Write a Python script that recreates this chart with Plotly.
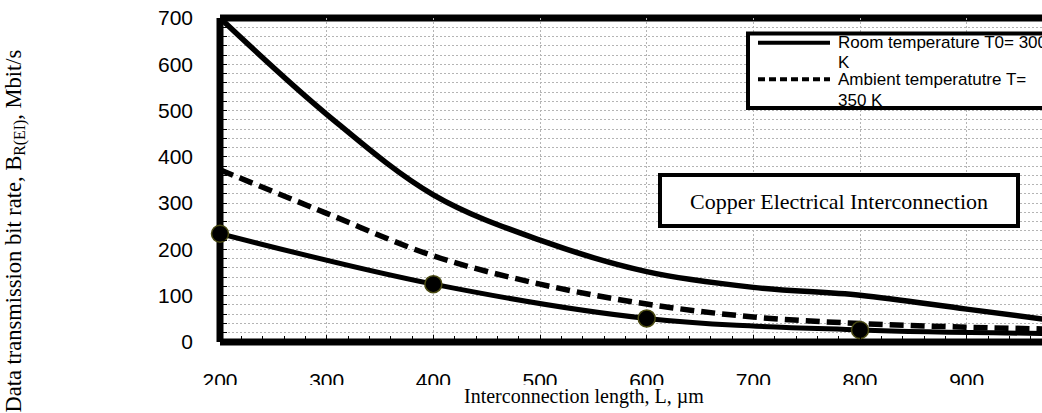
import plotly.graph_objects as go

# ---- data ----
length_um = [200, 300, 400, 500, 600, 700, 800, 900, 1000]
room_temp_rate = [700, 492, 318, 220, 152, 118, 101, 71, 41]
ambient_temp_rate = [372, 278, 186, 125, 82, 54, 40, 32, 27]
point_length_um = [200, 400, 600, 800, 1000]
point_rate = [234, 125, 51, 26, 18]
x_ticks = [200, 300, 400, 500, 600, 700, 800, 900]
y_ticks = [0, 100, 200, 300, 400, 500, 600, 700]

legend_room = ["Room temperature T0= 300", "K"]
legend_ambient = ["Ambient temperatutre T=", "350 K"]
box_label = "Copper Electrical Interconnection"
x_title = "Interconnection length, L, µm"
y_title = "Data transmission bit rate, B<sub>R(EI)</sub>, Mbit/s"

# ---- layout geometry ----
W, H = 1042, 413
L, T, B, R = 220, 18, 71, 0
PW = W - L - R
PH = H - T - B
X_PER_100 = 106.67
x_max = 200 + PW / X_PER_100 * 100


def px(x):
    return (x - L) / PW


def py(y):
    return (H - B - y) / PH


ARIAL = "Arial, Liberation Sans, sans-serif"
TIMES = "Times New Roman, Liberation Serif, serif"

fig = go.Figure()
fig.add_trace(go.Scatter(
    x=length_um, y=room_temp_rate, mode="lines",
    name="Room temperature T0= 300 K",
    line=dict(color="black", width=5.5, shape="spline"),
))
fig.add_trace(go.Scatter(
    x=length_um, y=ambient_temp_rate, mode="lines",
    name="Ambient temperatutre T= 350 K",
    line=dict(color="black", width=5.5, shape="spline", dash="14px,7px"),
))
fig.add_trace(go.Scatter(
    x=point_length_um, y=point_rate, mode="lines+markers",
    name="Points", cliponaxis=False,
    line=dict(color="black", width=5, shape="spline"),
    marker=dict(color="black", size=17, line=dict(color="#4a4a12", width=1.5)),
))

grid_col = "#b4b4b4"
fig.update_layout(
    width=W, height=H,
    margin=dict(l=L, r=R, t=T, b=B, pad=0),
    paper_bgcolor="white", plot_bgcolor="rgba(0,0,0,0)",
    showlegend=False,
    xaxis=dict(
        range=[200, x_max], tickvals=x_ticks, ticktext=[str(v) for v in x_ticks],
        showgrid=True, gridcolor=grid_col, griddash="2px,2px", gridwidth=1,
        zeroline=False, showline=False,
        ticks="inside", ticklen=7, tickcolor="black", tickwidth=1,
        minor=dict(dtick=20, ticks="inside", ticklen=6, tickcolor="black", showgrid=False),
        tickfont=dict(family=ARIAL, size=21, color="black"),
        ticklabelstandoff=24,
    ),
    yaxis=dict(
        range=[0, 700], tickvals=y_ticks,
        showgrid=True, gridcolor=grid_col, griddash="2px,2px", gridwidth=1,
        zeroline=False, showline=False,
        ticks="inside", ticklen=7, tickcolor="black", tickwidth=1,
        minor=dict(dtick=20, ticks="inside", ticklen=7, tickcolor="black",
                   showgrid=True, gridcolor=grid_col, griddash="2px,2px", gridwidth=1),
        tickfont=dict(family=ARIAL, size=21, color="black"),
        ticklabelstandoff=26,
    ),
)

shapes = []
# thick plot border (left, top, bottom); right side lies beyond the visible area
for x0, y0, x1, y1 in [(0, 0, 0, 1), (0, 1, 1.1, 1), (0, 0, 1.1, 0)]:
    shapes.append(dict(type="line", xref="paper", yref="paper",
                       x0=x0, y0=y0, x1=x1, y1=y1,
                       line=dict(color="black", width=7), layer="below"))
# white strip cutting off bottom of the x tick labels
shapes.append(dict(type="rect", xref="paper", yref="paper",
                   x0=px(150), x1=px(1100), y0=py(385), y1=py(430),
                   fillcolor="white", line=dict(width=0), layer="above"))
# legend box
shapes.append(dict(type="rect", xref="paper", yref="paper",
                   x0=px(748), x1=px(1120), y0=py(108), y1=py(33.5),
                   fillcolor="white", line=dict(color="black", width=4), layer="above"))
shapes.append(dict(type="line", xref="paper", yref="paper",
                   x0=px(758), x1=px(830), y0=py(42.7), y1=py(42.7),
                   line=dict(color="black", width=4), layer="above"))
shapes.append(dict(type="line", xref="paper", yref="paper",
                   x0=px(758), x1=px(830), y0=py(79.3), y1=py(79.3),
                   line=dict(color="black", width=4, dash="7px,4px"), layer="above"))
# copper label box
shapes.append(dict(type="rect", xref="paper", yref="paper",
                   x0=px(660), x1=px(1018), y0=py(226), y1=py(175),
                   fillcolor="white", line=dict(color="black", width=4), layer="above"))
fig.update_layout(shapes=shapes)

ann = []
for txt, yc in [(legend_room[0], 42.7), (legend_room[1], 62.5),
                (legend_ambient[0], 79.3), (legend_ambient[1], 100.5)]:
    ann.append(dict(xref="paper", yref="paper", x=px(836), y=py(yc),
                    xanchor="left", yanchor="middle", showarrow=False, text=txt,
                    font=dict(family=ARIAL, size=17, color="black")))
ann.append(dict(xref="paper", yref="paper", x=px(839), y=py(201),
                xanchor="center", yanchor="middle", showarrow=False, text=box_label,
                font=dict(family=TIMES, size=22, color="black")))
ann.append(dict(xref="paper", yref="paper", x=px(584), y=py(396.5),
                xanchor="center", yanchor="middle", showarrow=False, text=x_title,
                font=dict(family=TIMES, size=20, color="black")))
ann.append(dict(xref="paper", yref="paper", x=px(15), y=py(48),
                xanchor="center", yanchor="top", showarrow=False, text=y_title,
                textangle=-90,
                font=dict(family=TIMES, size=22.5, color="black")))
fig.update_layout(annotations=ann)

fig.write_html("out.html")
